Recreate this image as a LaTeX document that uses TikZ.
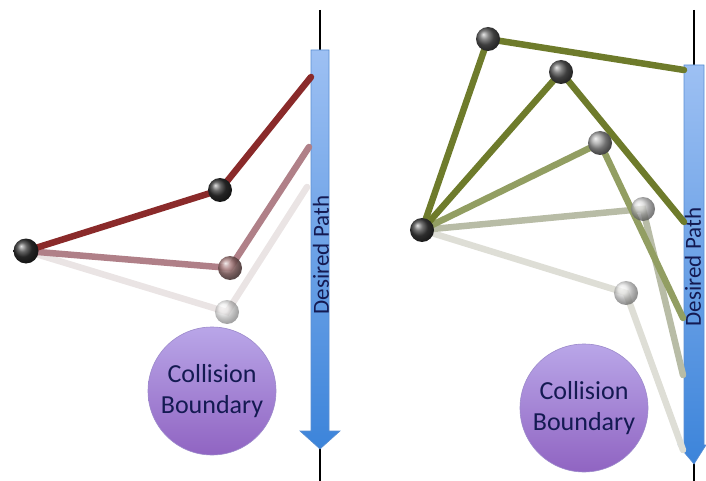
\documentclass[tikz,border=0pt]{standalone}
\usepackage{fontspec}
\setmainfont{Carlito}
\usetikzlibrary{shadings}
\definecolor{navy}{HTML}{141A52}
\definecolor{redlink}{HTML}{8A2A2A}
\definecolor{pinklink}{HTML}{B08088}
\definecolor{lightlink}{HTML}{EAE4E4}
\definecolor{olive}{HTML}{6E7B2B}
\definecolor{olive2}{HTML}{929E62}
\definecolor{olive3}{HTML}{B8BCA6}
\definecolor{olive4}{HTML}{DEDED6}
\definecolor{arrowtop}{HTML}{9DC0F3}
\definecolor{arrowbot}{HTML}{3C84DA}
\definecolor{arrowedge}{HTML}{5A8ED2}
\definecolor{cbtop}{HTML}{B9A6E8}
\definecolor{cbbot}{HTML}{9064C2}
\definecolor{cbedge}{HTML}{9C8ACB}
\tikzset{
  joint/.style={circle, inner sep=0pt, minimum size=24pt, shading=ball, ball color=#1},
  link/.style={line width=6.5pt, draw=#1, line cap=round},
  guide/.style={line width=1.3pt, draw=black},
  pathlabel/.style={rotate=90, text=navy, inner sep=0pt, font=\fontsize{23}{23}\selectfont},
  boundary/.style={circle, minimum size=128pt, inner sep=0pt, top color=cbtop, bottom color=cbbot, draw=cbedge, line width=0.6pt, text=navy, align=center, font=\fontsize{26}{31}\selectfont}
}
\begin{document}
\begin{tikzpicture}[x=1pt,y=-1pt]
\useasboundingbox (0,0) rectangle (706,481);
% ---------------- left panel ----------------
\coordinate (LgTop) at (320,10);
\coordinate (LgBot) at (320,481);
\draw[guide] (LgTop) -- (LgBot);
\path[top color=arrowtop, bottom color=arrowbot, draw=arrowedge, line width=0.6pt]
  (311,50) -- (329,50) -- (329,431) -- (340,431) -- (320,449) -- (300,431) -- (311,431) -- cycle;
\node[pathlabel] (Llabel) at (321,255) {Desired Path};
\node[boundary] (Lcb) at (212,391) {Collision\\Boundary};
\coordinate (Le1) at (311,77);
\coordinate (Le2) at (309,147);
\coordinate (Le3) at (307,187);
\coordinate (Lb) at (26,251);
\coordinate (L1) at (220,190);
\coordinate (L2) at (230,268);
\coordinate (L3) at (227,312);
\draw[link=lightlink] (Lb) -- (L3) -- (Le3);
\draw[link=pinklink] (Lb) -- (L2) -- (Le2);
\draw[link=redlink] (Lb) -- (L1) -- (Le1);
\node[joint=gray!20, opacity=0.6] (Lj3) at (L3) {};
\node[joint=gray!80!red!90, opacity=0.9] (Lj2) at (L2) {};
\node[joint=black!80] (Lj1) at (L1) {};
\node[joint=black!80, minimum size=25pt] (Lbase) at (Lb) {};
% ---------------- right panel ----------------
\coordinate (RgTop) at (694,10);
\coordinate (RgBot) at (694,481);
\draw[guide] (RgTop) -- (RgBot);
\path[top color=arrowtop, bottom color=arrowbot, draw=arrowedge, line width=0.6pt]
  (684,65) -- (704,65) -- (704,445) -- (706,445) -- (694,464) -- (678,445) -- (684,445) -- cycle;
\node[pathlabel] (Rlabel) at (693,267) {Desired Path};
\node[boundary] (Rcb) at (584,408) {Collision\\Boundary};
\coordinate (Re1) at (684,70);
\coordinate (Re2) at (684,222);
\coordinate (Re3) at (683,318);
\coordinate (Re4) at (683,375);
\coordinate (Re5) at (683,450);
\coordinate (Rb) at (422,230);
\coordinate (R1) at (488,39);
\coordinate (R2) at (561,72);
\coordinate (R3) at (600,143);
\coordinate (R4) at (643,209);
\coordinate (R5) at (626,293);
\draw[link=olive4] (Rb) -- (R5) -- (Re5);
\draw[link=olive3] (Rb) -- (R4) -- (Re4);
\draw[link=olive2] (Rb) -- (R3) -- (Re3);
\draw[link=olive] (Rb) -- (R2) -- (Re2);
\draw[link=olive] (Rb) -- (R1) -- (Re1);
\node[joint=gray!25, opacity=0.7] (Rj5) at (R5) {};
\node[joint=gray!40, opacity=0.8] (Rj4) at (R4) {};
\node[joint=gray!75] (Rj3) at (R3) {};
\node[joint=black!65] (Rj2) at (R2) {};
\node[joint=black!65] (Rj1) at (R1) {};
\node[joint=black!75] (Rbase) at (Rb) {};
\end{tikzpicture}
\end{document}
